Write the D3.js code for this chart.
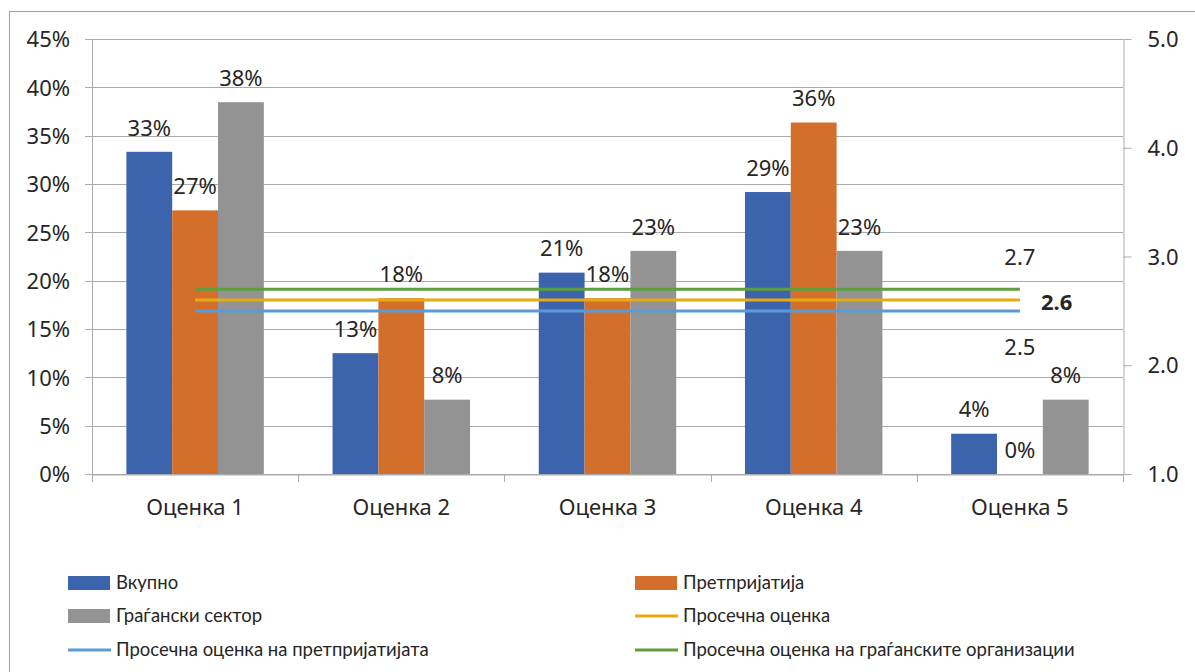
<!DOCTYPE html>
<html>
<head>
<meta charset="utf-8">
<script src="https://cdn.jsdelivr.net/npm/d3@7"></script>
<style>
  body { margin: 0; background: #fff; }
  text { fill: #262626; }
</style>
</head>
<body>
<script>
// chart data
var categories = ["Оценка 1", "Оценка 2", "Оценка 3", "Оценка 4", "Оценка 5"];
var barSeries = ["Вкупно", "Претпријатија", "Граѓански сектор"];
var totalValues = [0.3333, 0.125, 0.2083, 0.2917, 0.0417];
var companyValues = [0.2727, 0.1818, 0.1818, 0.3636, 0.0];
var civilValues = [0.3846, 0.0769, 0.2308, 0.2308, 0.0769];
var lineSeries = ["Просечна оценка", "Просечна оценка на претпријатијата", "Просечна оценка на граѓанските организации"];
var avgAll = [2.6, 2.6, 2.6, 2.6, 2.6];
var avgCompanies = [2.5, 2.5, 2.5, 2.5, 2.5];
var avgCivil = [2.7, 2.7, 2.7, 2.7, 2.7];
var leftTicks = [0, 0.05, 0.10, 0.15, 0.20, 0.25, 0.30, 0.35, 0.40, 0.45];
var rightTicks = [1, 2, 3, 4, 5];

var W = 1195, H = 672;
var plot = { left: 92, right: 1123, top: 39, bottom: 474 };
var FS = 22;
var FONT = "'Noto Sans', sans-serif";

var barColors = ["#3C64AD", "#D46F2B", "#939393"];
var lineColors = { all: "#E8AA0E", comp: "#5B9BD5", civil: "#5E9E3E" };

var svg = d3.select("body").append("svg")
  .attr("width", W).attr("height", H)
  .style("font-family", FONT);

// outer frame
svg.append("rect")
  .attr("x", 9.5).attr("y", 11.5)
  .attr("width", W + 10).attr("height", H + 10)
  .attr("fill", "none").attr("stroke", "#A0A0A0");

// scales
var x0 = d3.scaleBand().domain(categories).range([plot.left, plot.right]).paddingInner(0).paddingOuter(0);
var x1 = d3.scaleBand().domain(barSeries).range([0, x0.bandwidth()]).paddingInner(0).paddingOuter(0.75);
var yL = d3.scaleLinear().domain([0, 0.45]).range([plot.bottom, plot.top]);
var yR = d3.scaleLinear().domain([1, 5]).range([plot.bottom, plot.top]);

// gridlines
svg.append("g").selectAll("line").data(leftTicks).enter().append("line")
  .attr("x1", plot.left - 7).attr("x2", plot.right)
  .attr("y1", function(d) { return Math.round(yL(d)) + 0.5; })
  .attr("y2", function(d) { return Math.round(yL(d)) + 0.5; })
  .attr("stroke", "#ABABAB").attr("stroke-width", 1);

// left axis
var leftAxis = d3.axisLeft(yL).tickValues(leftTicks).tickSize(0).tickPadding(0)
  .tickFormat(d3.format(".0%"));
var gl = svg.append("g").attr("transform", "translate(70,0)").call(leftAxis);
gl.attr("font-family", null);
gl.select(".domain").remove();
gl.selectAll("text").attr("font-size", FS).attr("fill", "#262626").attr("dy", "0.35em");
svg.append("line").attr("x1", plot.left + 0.5).attr("x2", plot.left + 0.5)
  .attr("y1", plot.top).attr("y2", plot.bottom).attr("stroke", "#ABABAB");

// right axis
var rightAxis = d3.axisRight(yR).tickValues(rightTicks).tickSizeInner(8).tickSizeOuter(0).tickPadding(16)
  .tickFormat(d3.format(".1f"));
var gr = svg.append("g").attr("transform", "translate(" + (plot.right + 0.5) + ",0)").call(rightAxis);
gr.attr("font-family", null);
gr.selectAll("line").attr("stroke", "#ABABAB");
gr.select(".domain").attr("stroke", "#ABABAB");
gr.selectAll("text").attr("font-size", FS).attr("fill", "#262626").attr("dy", "0.35em");

// bottom axis
var bottomAxis = d3.axisBottom(x0).tickSize(0).tickPadding(0);
var gb = svg.append("g").attr("transform", "translate(0," + (plot.bottom + 0.5) + ")").call(bottomAxis);
gb.attr("font-family", null);
gb.select(".domain").attr("stroke", "#ABABAB");
gb.selectAll("text").attr("font-size", FS).attr("fill", "#262626")
  .attr("y", 33).attr("dy", "0.35em");
// category boundary ticks
var bounds = categories.map(function(c) { return x0(c); }).concat([plot.right]);
svg.append("g").selectAll("line").data(bounds).enter().append("line")
  .attr("x1", function(d) { return Math.round(d) + 0.5; })
  .attr("x2", function(d) { return Math.round(d) + 0.5; })
  .attr("y1", plot.bottom).attr("y2", plot.bottom + 8)
  .attr("stroke", "#ABABAB");

// bars
var barData = [totalValues, companyValues, civilValues];
barSeries.forEach(function(s, si) {
  var g = svg.append("g");
  g.selectAll("rect").data(barData[si]).enter().append("rect")
    .attr("x", function(d, i) { return x0(categories[i]) + x1(s); })
    .attr("y", function(d) { return yL(d); })
    .attr("width", x1.bandwidth())
    .attr("height", function(d) { return yL(0) - yL(d); })
    .attr("fill", barColors[si]);
  g.selectAll("text").data(barData[si]).enter().append("text")
    .attr("x", function(d, i) { return x0(categories[i]) + x1(s) + x1.bandwidth() / 2; })
    .attr("y", function(d) { return yL(d) - 24; })
    .attr("dy", "0.35em")
    .attr("text-anchor", "middle")
    .attr("font-size", FS)
    .text(function(d) { return d3.format(".0%")(d); });
});

// average lines
var cx = function(i) { return x0(categories[i]) + x0.bandwidth() / 2; };
var line = d3.line().x(function(d, i) { return cx(i); }).y(function(d) { return yR(d); });
var lines = [
  { vals: avgCivil, color: lineColors.civil },
  { vals: avgAll, color: lineColors.all },
  { vals: avgCompanies, color: lineColors.comp }
];
lines.forEach(function(l) {
  svg.append("path").datum(l.vals).attr("d", line)
    .attr("fill", "none").attr("stroke", l.color).attr("stroke-width", 3);
});
var last = categories.length - 1;
svg.append("text").attr("x", cx(last)).attr("y", yR(avgCivil[last]) - 32).attr("dy", "0.35em")
  .attr("text-anchor", "middle").attr("font-size", FS).text(d3.format(".1f")(avgCivil[last]));
svg.append("text").attr("x", cx(last) + 21).attr("y", yR(avgAll[last]) + 2).attr("dy", "0.35em")
  .attr("text-anchor", "start").attr("font-size", FS).attr("font-weight", "bold").text(d3.format(".1f")(avgAll[last]));
svg.append("text").attr("x", cx(last)).attr("y", yR(avgCompanies[last]) + 36).attr("dy", "0.35em")
  .attr("text-anchor", "middle").attr("font-size", FS).text(d3.format(".1f")(avgCompanies[last]));

// legend
var legendItems = [
  { name: barSeries[0], color: barColors[0], type: "bar" },
  { name: barSeries[1], color: barColors[1], type: "bar" },
  { name: barSeries[2], color: barColors[2], type: "bar" },
  { name: lineSeries[0], color: lineColors.all, type: "line" },
  { name: lineSeries[1], color: lineColors.comp, type: "line" },
  { name: lineSeries[2], color: lineColors.civil, type: "line" }
];
var colX = [68, 635];
var rowY = [583, 616, 650];
var lg = svg.append("g").selectAll("g").data(legendItems).enter().append("g")
  .attr("transform", function(d, i) { return "translate(" + colX[i % 2] + "," + rowY[Math.floor(i / 2)] + ")"; });
lg.each(function(d) {
  var g = d3.select(this);
  if (d.type === "bar") {
    g.append("rect").attr("x", 0).attr("y", -7).attr("width", 42).attr("height", 14).attr("fill", d.color);
  } else {
    g.append("line").attr("x1", 0).attr("x2", 43).attr("y1", 0).attr("y2", 0)
      .attr("stroke", d.color).attr("stroke-width", 3);
  }
  g.append("text").attr("x", 48).attr("y", 0).attr("dy", "0.35em")
    .style("font-family", "Lato, sans-serif").attr("font-size", 18.5).text(d.name);
});
</script>
</body>
</html>
